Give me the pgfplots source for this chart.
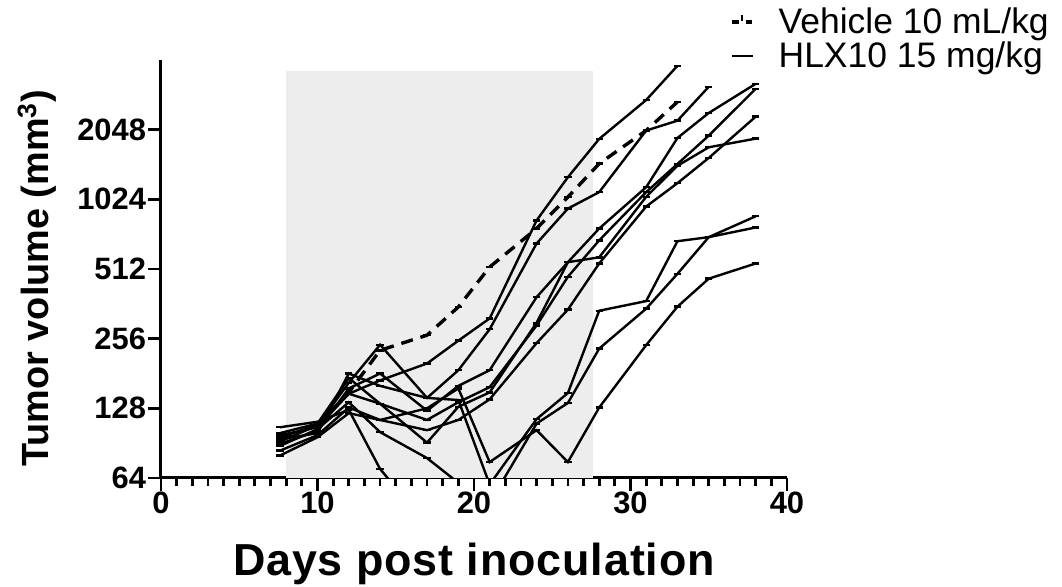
\documentclass[border=0pt]{standalone}
\usepackage{pgfplots}
\pgfplotsset{compat=1.18}
\usepackage{fontspec}
\setmainfont{Liberation Sans}
\begin{document}
\begin{tikzpicture}
\begin{axis}[
  scale only axis,
  width=313bp, height=209bp,
  xmin=0, xmax=40,
  ymode=log, log basis y=2,
  ymin=64, ymax=4096,
  axis lines=left,
  axis line style={line width=1.5bp, -},
  xtick={0,10,20,30,40},
  xticklabels={0,10,20,30,40},
  minor x tick num=9,
  ytick={64,128,256,512,1024,2048},
  yticklabels={64,128,256,512,1024,2048},
  minor ytick={},
  tick align=outside,
  major tick length=6.5bp,
  minor tick length=4bp,
  tick style={line width=1.4bp, black},
  ticklabel style={font=\fontsize{15.5}{15.5}\selectfont\bfseries},
  yticklabel style={inner xsep=0.8bp},
  xticklabel style={inner ysep=0.5bp},
  xlabel={Days post inoculation},
  ylabel={Tumor volume (mm\textsuperscript{3})},
  xlabel style={font=\fontsize{22.5}{22.5}\selectfont\bfseries\addfontfeatures{LetterSpace=2}, at={(axis description cs:0.5,-0.205)}, anchor=center},
  ylabel style={font=\fontsize{19}{19}\selectfont\bfseries, at={(axis description cs:-0.198,0.478)}, anchor=center},
  clip=true,
  legend cell align=left,
  legend style={at={(rel axis cs:0.90,1.145)}, anchor=north west, draw=none, fill=none,
    font=\fontsize{17.8}{17.8}\selectfont, row sep=-1.5bp},
  every axis plot/.append style={black, line width=1.2bp, mark=-, mark size=1.8bp, mark options={solid, line width=1.2bp}},
]
\addplot[draw=none, fill=black!7, mark=none, forget plot] coordinates {(8,64) (8,3660) (27.6,3660) (27.6,64)} -- cycle;

% Vehicle
\addplot[dash pattern=on 6bp off 4bp, line width=1.7bp,
  legend image code/.code={\draw[line width=1.7bp] (0bp,0bp)--(3.3bp,0bp); \draw[line width=1bp] (5bp,0.8bp)--(5bp,3.3bp); \draw[line width=1.7bp] (6.7bp,0bp)--(10bp,0bp);}]
coordinates {(7.6,95) (10,108) (12,150) (14,228) (17,265) (19,351) (21,522) (24,766) (26,1048) (28,1460) (31,2030) (33,2700)};
\addlegendentry{\hspace{10bp}Vehicle 10 mL/kg}

% HLX10 A
\addplot[legend image code/.code={\draw[line width=1.2bp] (0bp,0bp)--(10.5bp,0bp);}]
coordinates {(7.6,98) (10,106) (12,148) (14,169) (17,200) (19,251) (21,313) (24,830) (26,1276) (28,1868) (31,2750) (33,3866)};
\addlegendentry{\hspace{10bp}HLX10 15 mg/kg}

% B
\addplot[forget plot] coordinates {(7.6,92) (10,108) (12,165) (14,241) (17,142) (19,187) (21,281) (24,660) (26,934) (28,1100) (31,2030) (33,2240) (35,3139)};
% E1
\addplot[forget plot] coordinates {(7.6,90) (10,102) (12,156) (14,181) (17,125) (19,160) (21,187) (24,387) (26,548) (28,766) (31,1155) (33,1886) (35,2418) (38,3233)};
% E2
\addplot[forget plot] coordinates {(7.6,96) (10,108) (12,148) (14,134) (17,114) (19,136) (21,158) (24,292) (26,474) (28,681) (31,1100) (33,1456) (35,1930) (38,3076)};
% E3
\addplot[forget plot] coordinates {(7.6,84) (10,98) (12,129) (14,114) (17,103) (19,114) (21,140) (24,245) (26,342) (28,541) (31,953) (33,1203) (35,1546) (38,2331)};
% E4
\addplot[forget plot] coordinates {(7.6,100) (10,110) (12,173) (14,134) (17,91) (19,130) (21,150) (24,300) (26,548) (28,575) (31,1050) (33,1430) (35,1719) (38,1873)};
% E5
\addplot[forget plot] coordinates {(7.6,88) (10,104) (12,136) (14,101) (17,78) (19,61) (21,50) (24,110) (26,135) (28,232) (31,345) (33,488) (35,703) (38,865)};
% E6
\addplot[forget plot] coordinates {(7.6,94) (10,100) (12,181) (14,160) (17,142) (19,139) (21,60) (24,115) (26,149) (28,338) (31,372) (33,675) (35,703) (38,774)};
% E7
\addplot[forget plot] coordinates {(7.6,80) (10,96) (12,122) (14,114) (17,128) (19,156) (21,75) (24,103) (26,75) (28,129) (31,240) (33,352) (35,465) (38,541)};
% a (drops out)
\addplot[forget plot] coordinates {(7.6,106) (10,112) (12,126) (14,70) (17,40)};

\coordinate (bl) at (rel axis cs:0,0);
\coordinate (tr) at (rel axis cs:1,1);
\end{axis}
\pgfresetboundingbox
\path ([xshift=-80.5bp, yshift=-54.5bp]bl) rectangle ([xshift=137.5bp, yshift=30bp]tr);
\end{tikzpicture}
\end{document}
